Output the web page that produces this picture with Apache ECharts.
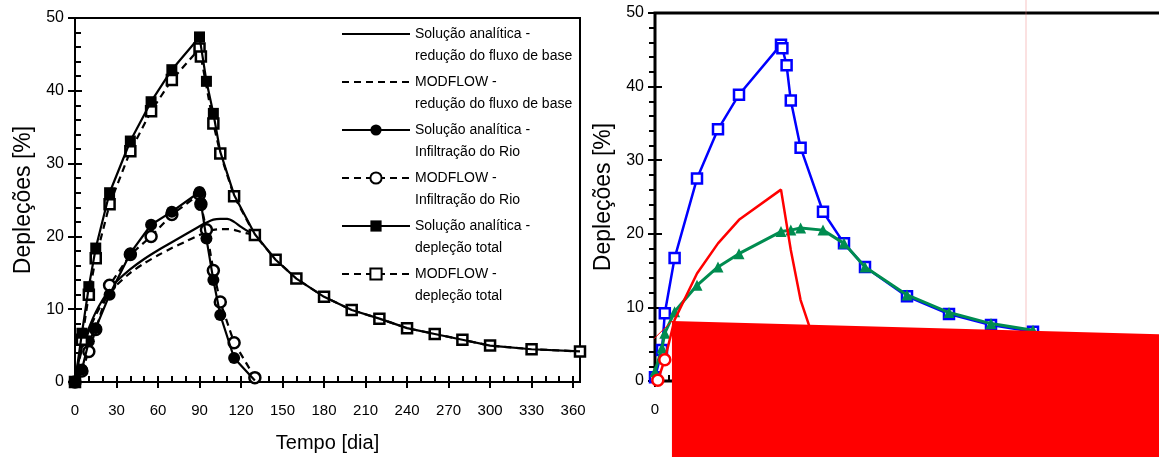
<!DOCTYPE html>
<html>
<head>
<meta charset="utf-8">
<script src="https://cdn.jsdelivr.net/npm/echarts@6/dist/echarts.min.js"></script>
<style>
  html, body { margin: 0; padding: 0; background: #fff; }
  #chart { width: 1159px; height: 457px; }
</style>
</head>
<body>
<div id="chart"></div>
<script>
(function() {
  'use strict';

  // left panel - redução do fluxo de base (curves, no markers)
  var baseT = [0, 5, 10, 15, 20, 25, 30, 40, 50, 60, 70, 80, 90, 95, 100, 105, 110, 115, 120, 125, 130];
  var baseA = [0, 4.8, 7.4, 9.6, 11.3, 12.7, 13.8, 15.5, 16.9, 18.1, 19.2, 20.3, 21.4, 21.9, 22.3, 22.4, 22.4, 22.0, 21.3, 20.7, 20.3];
  var baseM = [0, 4.5, 7.0, 9.2, 10.9, 12.3, 13.3, 15.0, 16.3, 17.4, 18.4, 19.3, 20.2, 20.6, 20.9, 21.0, 21.0, 20.9, 20.6, 20.4, 20.2];

  // left panel - infiltração do rio
  var infT = [0, 5, 10, 15, 25, 40, 55, 70, 90, 91, 95, 100, 105, 115, 130];
  var infA = [0, 1.7, 5.6, 7.4, 12.0, 17.7, 21.6, 23.4, 26.1, 24.6, 19.7, 14.0, 9.2, 3.3, 0.2];
  var infAMarked = 14; // no filled circle at t = 130
  var infM = [0, 1.5, 4.2, 7.2, 13.3, 17.5, 20.0, 23.0, 25.8, 24.4, 20.9, 15.3, 11.0, 5.4, 0.6];

  // left panel - depleção total
  var totT = [0, 5, 10, 15, 25, 40, 55, 70, 90, 95, 100, 105, 115, 130, 145, 160, 180, 200, 220, 240, 260, 280, 300, 330, 365];
  var totA = [0, 6.7, 13.1, 18.4, 26.0, 33.1, 38.5, 42.9, 47.4, 41.3, 36.9, 31.6, 25.7, 20.3, 16.8, 14.2, 11.7, 9.9, 8.7, 7.4, 6.6, 5.8, 5.0, 4.5, 4.2];
  var totAMarked = 11; // filled squares stop after t = 100
  var totMT = [0, 5, 10, 15, 25, 40, 55, 70, 90, 91, 100, 105, 115, 130, 145, 160, 180, 200, 220, 240, 260, 280, 300, 330, 365];
  var totM = [0, 5.8, 12.0, 17.0, 24.4, 31.7, 37.2, 41.5, 45.8, 44.7, 35.5, 31.4, 25.5, 20.2, 16.8, 14.2, 11.7, 9.9, 8.7, 7.4, 6.6, 5.8, 5.0, 4.5, 4.2];

  // right panel
  var blueT = [0, 5, 7, 14, 30, 45, 60, 90, 91, 94, 97, 104, 120, 135, 150, 180, 210, 240, 270];
  var blueV = [0.5, 4.2, 9.2, 16.7, 27.5, 34.2, 38.9, 45.7, 45.2, 42.9, 38.1, 31.7, 23.0, 18.7, 15.5, 11.5, 9.1, 7.6, 6.7];
  var greenT = [0, 5, 7, 14, 30, 45, 60, 90, 97, 104, 120, 135, 150, 180, 210, 240, 270];
  var greenV = [1.3, 4.5, 6.5, 9.4, 13.0, 15.5, 17.3, 20.3, 20.5, 20.8, 20.5, 18.7, 15.5, 11.7, 9.3, 7.8, 6.9];
  var redT = [2, 7, 14, 30, 45, 60, 90, 97, 104, 111];
  var redV = [0.1, 2.9, 8.3, 14.6, 18.7, 21.9, 26.0, 17.8, 11.0, 7.0];
  var redMarked = 2; // only the first points carry a circle

  // the big red patch and its thin leader line
  var polyT = [12.1, 370, 370, 12.1];
  var polyV = [8.15, 6.3, -14, -14];
  var guideT = [-90, 12.1];
  var guideV = [-11, 8.15];
  var pinkT = [265, 265];
  var pinkV = [-14, 53];

  var xTicks = { min: 0, max: 365, interval: 30 };
  var yTicks = { min: 0, max: 50, interval: 10 };

  var names = [
    'Solução analítica -\nredução do fluxo de base',
    'MODFLOW -\nredução do fluxo de base',
    'Solução analítica -\nInfiltração do Rio',
    'MODFLOW -\nInfiltração do Rio',
    'Solução analítica -\ndepleção total',
    'MODFLOW -\ndepleção total'
  ];

  var font = "'Liberation Sans', Arial, sans-serif";

  function pairs(xs, ys) {
    return xs.map(function(x, i) { return [x, ys[i]]; });
  }

  // keep the marker on the first n points only
  function markFirst(data, n) {
    return data.map(function(p, i) {
      return i < n ? { value: p } : { value: p, symbol: 'none' };
    });
  }

  function mainX(grid, withName) {
    return {
      gridIndex: grid, type: 'value', min: xTicks.min, max: xTicks.max, interval: xTicks.interval,
      position: 'bottom',
      name: withName ? 'Tempo [dia]' : '', nameLocation: 'middle', nameGap: 51,
      nameTextStyle: { fontFamily: font, fontSize: 20, color: '#000' },
      axisLine: { onZero: false, lineStyle: { color: '#000', width: 2 } },
      axisTick: { inside: false, length: 6, lineStyle: { color: '#000', width: 2 } },
      axisLabel: { margin: 21, color: '#000', fontFamily: font, fontSize: 15, showMaxLabel: false },
      splitLine: { show: false }
    };
  }

  function overlayX(grid) {
    return {
      gridIndex: grid, type: 'value', min: xTicks.min, max: xTicks.max, interval: xTicks.interval,
      position: 'bottom',
      axisLine: { show: false, onZero: false },
      axisTick: { inside: true, length: 6, lineStyle: { color: '#000', width: 2 } },
      minorTick: { show: true, splitNumber: 3, length: 6, lineStyle: { color: '#000', width: 2 } },
      axisLabel: { show: false },
      splitLine: { show: false }
    };
  }

  function mainY(grid, minorOut) {
    return {
      gridIndex: grid, type: 'value', min: yTicks.min, max: yTicks.max, interval: yTicks.interval,
      position: 'left',
      name: 'Depleções [%]', nameLocation: 'middle', nameGap: 40, nameRotate: 90,
      nameTextStyle: { fontFamily: font, fontSize: 23, color: '#000' },
      axisLine: { onZero: false, lineStyle: { color: '#000', width: 2 } },
      axisTick: { inside: false, length: 7, lineStyle: { color: '#000', width: 2 } },
      minorTick: { show: minorOut, splitNumber: 5, length: 6, lineStyle: { color: '#000', width: 2 } },
      axisLabel: { margin: 11, color: '#000', fontFamily: font, fontSize: 16 },
      splitLine: { show: false }
    };
  }

  function overlayY(grid, minorIn) {
    return {
      gridIndex: grid, type: 'value', min: yTicks.min, max: yTicks.max, interval: yTicks.interval,
      position: 'left',
      axisLine: { show: false, onZero: false },
      axisTick: { inside: true, length: 7, lineStyle: { color: '#000', width: 2 } },
      minorTick: { show: minorIn, splitNumber: 5, length: 6, lineStyle: { color: '#000', width: 2 } },
      axisLabel: { show: false },
      splitLine: { show: false }
    };
  }

  function blackLine(name, data, opts) {
    return {
      name: name, type: 'line', xAxisIndex: 0, yAxisIndex: 0,
      data: data,
      symbol: opts.symbol || 'none',
      symbolSize: opts.size || 10,
      smooth: opts.smooth || false,
      lineStyle: { color: '#000', width: 2.2, type: opts.dashed ? [7, 5] : 'solid' },
      itemStyle: {
        color: opts.open ? '#fff' : '#000',
        borderColor: '#000',
        borderWidth: opts.open ? 2.5 : 0
      },
      z: opts.z || 3
    };
  }

  var dom = document.getElementById('chart');
  var chart = echarts.init(dom, null, { renderer: 'canvas' });

  // plain lines get no marker in the legend
  var legendData = names.map(function(n, i) {
    if (i < 2) {
      return { name: n, itemStyle: { color: 'rgba(0,0,0,0)', borderWidth: 0 }, lineStyle: { color: '#000' } };
    }
    return { name: n };
  });

  var options = {
    animation: false,
    backgroundColor: '#fff',
    textStyle: { fontFamily: font },
    grid: [
      { left: 75, top: 18, width: 505, height: 364, outerBoundsMode: 'none',
        show: true, borderColor: '#000', borderWidth: 2, backgroundColor: 'transparent' },
      { left: 655, top: 13, width: 511, height: 368, outerBoundsMode: 'none',
        show: true, borderColor: '#000', borderWidth: 3, backgroundColor: 'transparent' }
    ],
    xAxis: [mainX(0, true), overlayX(0), mainX(1, false), overlayX(1)],
    yAxis: [mainY(0, false), overlayY(0, true), mainY(1, true), overlayY(1, false)],
    legend: {
      orient: 'vertical', left: 341, top: 1, padding: 0, itemGap: -18,
      itemWidth: 68, itemHeight: 14, selectedMode: false,
      textStyle: { fontFamily: font, fontSize: 14, lineHeight: 22, color: '#000' },
      formatter: function(n) { return '\n' + n; },
      data: legendData
    },
    series: [
      blackLine(names[0], pairs(baseT, baseA), { smooth: 0.3 }),
      blackLine(names[1], pairs(baseT, baseM), { smooth: 0.3, dashed: true }),
      blackLine(names[2], markFirst(pairs(infT, infA), infAMarked), { symbol: 'circle', size: 12, z: 5 }),
      blackLine(names[3], pairs(infT, infM), { symbol: 'circle', size: 11, open: true, dashed: true, z: 4 }),
      blackLine(names[4], markFirst(pairs(totT, totA), totAMarked), { symbol: 'rect', size: 11, z: 7 }),
      blackLine(names[5], pairs(totMT, totM), { symbol: 'rect', size: 10, open: true, dashed: true, z: 6 }),

      {
        name: 'guia', type: 'line', xAxisIndex: 2, yAxisIndex: 2, clip: false,
        data: pairs(pinkT, pinkV), symbol: 'none',
        lineStyle: { color: 'rgba(235,120,120,0.45)', width: 1 }, z: 1, silent: true
      },
      {
        name: 'azul', type: 'line', xAxisIndex: 2, yAxisIndex: 2,
        data: pairs(blueT, blueV), symbol: 'rect', symbolSize: 10,
        lineStyle: { color: '#0000ff', width: 2.5 },
        itemStyle: { color: '#fff', borderColor: '#0000ff', borderWidth: 2.5 }, z: 3
      },
      {
        name: 'verde', type: 'line', xAxisIndex: 2, yAxisIndex: 2,
        data: pairs(greenT, greenV), symbol: 'triangle', symbolSize: 11,
        lineStyle: { color: '#008c50', width: 3 },
        itemStyle: { color: '#008c50' }, z: 4
      },
      {
        name: 'vermelho', type: 'line', xAxisIndex: 2, yAxisIndex: 2,
        data: markFirst(pairs(redT, redV), redMarked), symbol: 'circle', symbolSize: 11,
        lineStyle: { color: '#ff0000', width: 2.5 },
        itemStyle: { color: '#fff', borderColor: '#ff0000', borderWidth: 2.5 }, z: 5
      },
      {
        name: 'mancha', type: 'custom', xAxisIndex: 2, yAxisIndex: 2, clip: false, z: 20, silent: true,
        data: [[polyT[0], polyV[0]]],
        renderItem: function(params, api) {
          var pts = polyT.map(function(t, i) { return api.coord([t, polyV[i]]); });
          return { type: 'polygon', shape: { points: pts }, style: { fill: '#ff0000' } };
        }
      },
      {
        name: 'linha', type: 'line', xAxisIndex: 2, yAxisIndex: 2, clip: false,
        data: pairs(guideT, guideV), symbol: 'none',
        lineStyle: { color: '#ff0000', width: 1 }, z: 21, silent: true
      }
    ]
  };

  chart.setOption(options);
})();
</script>
</body>
</html>
